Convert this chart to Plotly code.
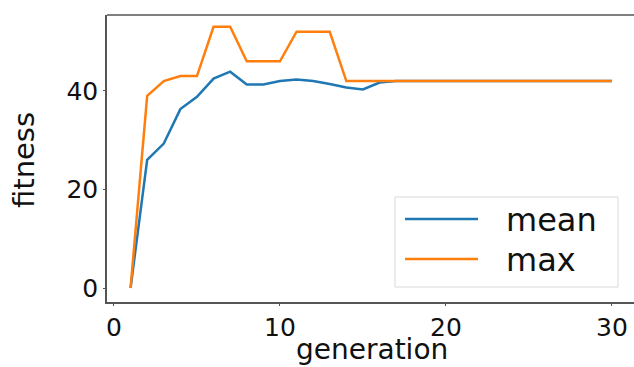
import plotly.graph_objects as go

generation = list(range(1, 31))
mean_fitness = [0, 26, 29.3, 36.3, 38.8, 42.5, 43.9, 41.3, 41.3, 42.0,
                42.3, 42.0, 41.4, 40.7, 40.3, 41.7, 42, 42, 42, 42,
                42, 42, 42, 42, 42, 42, 42, 42, 42, 42]
max_fitness = [0, 39, 42, 43, 43, 53, 53, 46, 46, 46,
               52, 52, 52, 42, 42, 42, 42, 42, 42, 42,
               42, 42, 42, 42, 42, 42, 42, 42, 42, 42]
series_names = ["mean", "max"]
series_colors = ["#1f77b4", "#ff7f0e"]
x_ticks = [0, 10, 20, 30]
y_ticks = [0, 20, 40]
x_title = "generation"
y_title = "fitness"

W, H = 634, 367
L, R, T, B = 107, 0, 15, 65
pw, ph = W - L - R, H - T - B


def px(x):
    return (x - L) / pw


def py(y):
    return (H - B - y) / ph


fig = go.Figure()
for name, vals, col in zip(series_names, [mean_fitness, max_fitness], series_colors):
    fig.add_trace(go.Scatter(x=generation, y=vals, mode="lines", name=name,
                             line=dict(color=col, width=2.5), showlegend=False))

axis_common = dict(showgrid=False, zeroline=False, showline=True, automargin=False,
                   linecolor="#555555", linewidth=1.5, ticks="outside",
                   ticklen=2, tickcolor="#555555", tickwidth=1.2,
                   tickfont=dict(size=25, color="#111111"))

# top spine
shapes = [dict(type="line", xref="paper", yref="paper", x0=0, x1=1, y0=1, y1=1,
               line=dict(color="#555555", width=1.5))]
# legend drawn as a box with sample lines and labels
shapes.append(dict(type="rect", xref="paper", yref="paper",
                   x0=px(395), x1=px(618), y0=py(287), y1=py(197),
                   line=dict(color="#d9d9d9", width=1), fillcolor="rgba(255,255,255,0.85)",
                   layer="above"))
annotations = []
row_y = [219, 259]
for name, col, ry in zip(series_names, series_colors, row_y):
    shapes.append(dict(type="line", xref="paper", yref="paper",
                       x0=px(405), x1=px(478), y0=py(ry), y1=py(ry),
                       line=dict(color=col, width=2.5), layer="above"))
    annotations.append(dict(text=name, xref="paper", yref="paper",
                            x=px(504), y=py(ry + 1), xanchor="left", yanchor="middle",
                            showarrow=False, font=dict(size=32, color="#111111")))

# axis titles
annotations.append(dict(text=x_title, xref="paper", yref="paper",
                        x=px(372), y=py(349), xanchor="center", yanchor="middle",
                        showarrow=False, font=dict(size=28, color="#111111")))
annotations.append(dict(text=y_title, xref="paper", yref="paper", textangle=-90,
                        x=px(24), y=py(160), xanchor="center", yanchor="middle",
                        showarrow=False, font=dict(size=29, color="#111111")))

fig.update_layout(
    width=W, height=H,
    margin=dict(l=L, r=R, t=T, b=B),
    paper_bgcolor="white", plot_bgcolor="white",
    font=dict(family="DejaVu Sans", color="#111111"),
    xaxis=dict(range=[-0.42, 31.33], tickvals=x_ticks, mirror=False, **axis_common),
    yaxis=dict(range=[-2.84, 55.4], tickvals=y_ticks, mirror=False, **axis_common),
    shapes=shapes,
    annotations=annotations,
    showlegend=False,
)

fig.write_html("out.html", config={"displayModeBar": False})
